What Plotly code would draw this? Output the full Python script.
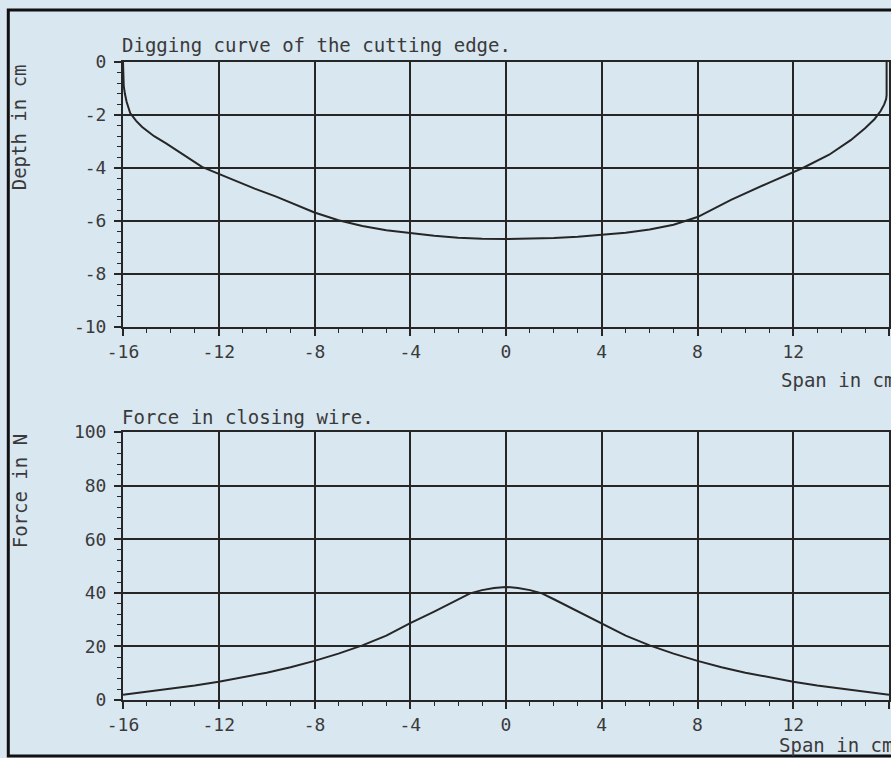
import plotly.graph_objects as go
from plotly.subplots import make_subplots

# Digging curve of the cutting edge (span in cm -> depth in cm)
span_depth = [-16, -15.97, -15.92, -15.85, -15.7, -15.45, -15.2, -14.7, -14.2, -13.5, -12.7,
              -12, -11.4, -10.5, -9.6, -8.8, -8, -7, -6, -5, -4, -3, -2, -1, 0, 1, 2, 3,
              4, 5, 6, 7, 8, 9.4, 11, 12.4, 13.5, 14.4, 15.0, 15.4, 15.65, 15.8, 15.88,
              15.9, 15.9]
depth = [0, -0.9, -1.2, -1.5, -1.93, -2.22, -2.45, -2.8, -3.07, -3.5, -3.96,
         -4.22, -4.45, -4.78, -5.08, -5.38, -5.68, -5.97, -6.19, -6.35, -6.46, -6.56,
         -6.63, -6.67, -6.68, -6.67, -6.64, -6.59, -6.52, -6.44, -6.32, -6.14, -5.85,
         -5.2, -4.55, -4.0, -3.5, -2.95, -2.5, -2.15, -1.85, -1.6, -1.4, -1.25, 0]

# Force in closing wire (span in cm -> force in N)
span_force = [-16, -15, -14, -13, -12, -11, -10, -9, -8, -7, -6, -5, -4, -3, -2, -1.5, -1,
              -0.5, 0, 0.5, 1, 1.5, 2, 3, 4, 5, 6, 7, 8, 9, 10, 11, 12, 13, 14, 15, 16]
force = [2.0, 3.1, 4.2, 5.4, 6.8, 8.4, 10.2, 12.2, 14.6, 17.3, 20.4, 24.0, 28.7, 33.0, 37.6,
         39.8, 41.0, 41.8, 42.2, 41.8, 41.0, 39.8, 37.6, 33.0, 28.7, 24.0, 20.4, 17.3, 14.6,
         12.2, 10.2, 8.4, 6.8, 5.4, 4.2, 3.1, 2.0]

x_ticks = [-16, -12, -8, -4, 0, 4, 8, 12, 16]
depth_ticks = [0, -2, -4, -6, -8, -10]
force_ticks = [0, 20, 40, 60, 80, 100]

BG = "#d9e7f1"
INK = "#262626"
TXT = "#3a3a3a"
FONT = "DejaVu Sans Mono"

W, H = 891, 758
L, R, T, B = 123, 0, 62, 58
PW, PH = W - L - R, H - T - B


def px(x):
    return (x - L) / PW


def py(y):
    return (H - B - y) / PH


fig = make_subplots(rows=2, cols=1, vertical_spacing=0.0)

fig.add_trace(go.Scatter(x=span_depth, y=depth, mode="lines",
                         line=dict(color=INK, width=2), showlegend=False),
              row=1, col=1)
fig.add_trace(go.Scatter(x=span_force, y=force, mode="lines",
                         line=dict(color=INK, width=2), showlegend=False),
              row=2, col=1)

xcommon = dict(range=[-16, 16], tickvals=x_ticks, ticktext=[str(v) for v in x_ticks],
               showgrid=True, gridcolor=INK, gridwidth=1.5,
               showline=True, linecolor=INK, linewidth=2, mirror=True,
               ticks="outside", ticklen=7, tickcolor=INK, tickwidth=1.5,
               tickfont=dict(family=FONT, size=18, color=TXT),
               minor=dict(dtick=1, tick0=-16, ticks="outside", ticklen=4,
                          tickcolor=INK, tickwidth=1.2, showgrid=False),
               zeroline=False, fixedrange=True)

fig.update_xaxes(**xcommon)

ycommon = dict(showgrid=True, gridcolor=INK, gridwidth=1.5,
               showline=True, linecolor=INK, linewidth=2, mirror=True,
               ticks="outside", ticklen=7, tickcolor=INK, tickwidth=1.5,
               tickfont=dict(family=FONT, size=18, color=TXT),
               ticklabelstandoff=4, zeroline=False, fixedrange=True)

fig.update_yaxes(**ycommon)
fig.update_yaxes(range=[-10, 0], tickvals=depth_ticks,
                 ticktext=[str(v) for v in depth_ticks],
                 domain=[py(327), 1],
                 minor=dict(dtick=0.4, tick0=0, ticks="outside", ticklen=4,
                            tickcolor=INK, tickwidth=1.2, showgrid=False),
                 row=1, col=1)
fig.update_yaxes(range=[0, 100], tickvals=force_ticks,
                 ticktext=[str(v) for v in force_ticks],
                 domain=[0, py(432)],
                 minor=dict(dtick=4, tick0=0, ticks="outside", ticklen=4,
                            tickcolor=INK, tickwidth=1.2, showgrid=False),
                 row=2, col=1)

txt = dict(family=FONT, size=19, color=TXT)
annotations = [
    dict(text="Digging curve of the cutting edge.", x=px(120), y=py(45),
         xanchor="left", yanchor="middle"),
    dict(text="Force in closing wire.", x=px(120), y=py(417),
         xanchor="left", yanchor="middle"),
    dict(text="Span in cm", x=px(781), y=py(380), xanchor="left", yanchor="middle"),
    dict(text="Span in cm", x=px(779), y=py(745), xanchor="left", yanchor="middle"),
    dict(text="Depth in cm", x=px(19), y=py(127), xanchor="center", yanchor="middle",
         textangle=-90),
    dict(text="Force in N", x=px(20), y=py(491), xanchor="center", yanchor="middle",
         textangle=-90),
]
for a in annotations:
    a.update(xref="paper", yref="paper", showarrow=False, font=txt)

fig.update_layout(
    width=W, height=H,
    margin=dict(l=L, r=R, t=T, b=B, pad=0),
    paper_bgcolor=BG, plot_bgcolor=BG,
    annotations=annotations,
    shapes=[dict(type="rect", xref="paper", yref="paper",
                 x0=px(8), x1=px(1000), y0=py(756), y1=py(10),
                 line=dict(color="#111111", width=3), fillcolor="rgba(0,0,0,0)",
                 layer="above")],
    showlegend=False,
)

fig.write_html("out.html")
